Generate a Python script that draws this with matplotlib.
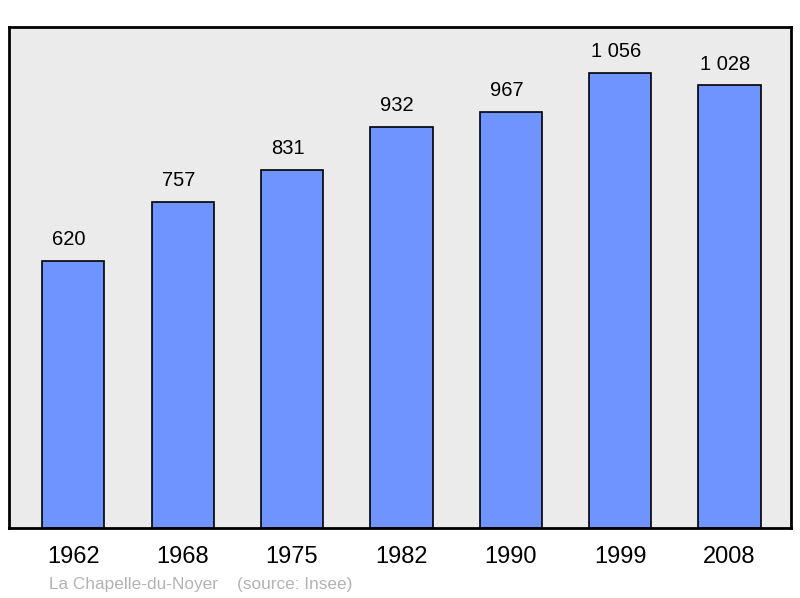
import matplotlib.pyplot as plt

years = ["1962", "1968", "1975", "1982", "1990", "1999", "2008"]
population = [620, 757, 831, 932, 967, 1056, 1028]
value_labels = ["620", "757", "831", "932", "967", "1 056", "1 028"]

plt.rcParams['font.family'] = ['Liberation Sans', 'DejaVu Sans']

fig = plt.figure(figsize=(8, 5.98), dpi=100)
ax = fig.add_axes([9 / 800, 70 / 598, 782 / 800, 501 / 598])
ax.set_facecolor('#ebebeb')

x = list(range(len(years)))
bars = ax.bar(x, population, width=0.57, color='#7094ff', edgecolor='black', linewidth=1.2, zorder=2)

# value labels above bars (slightly left of centre, as in the original)
for xi, v, lab in zip(x, population, value_labels):
    ax.annotate(lab, (xi, v), xytext=(-3, 8.5), textcoords='offset points',
                ha='center', va='bottom', fontsize=14.5)

ax.set_xlim(-0.588, 6.562)
ax.set_ylim(0, 1163.5)
ax.set_xticks(x)
ax.set_xticklabels(years, fontsize=17)
ax.tick_params(axis='x', length=0, pad=13)
ax.set_yticks([])
for s in ax.spines.values():
    s.set_linewidth(2)
    s.set_color('black')

fig.text(49 / 800, 1 - 584 / 598, "La Chapelle-du-Noyer    (source: Insee)",
         fontsize=12.4, color='#b3b3b3', ha='left', va='center')

fig.savefig('out.png', dpi=100)
